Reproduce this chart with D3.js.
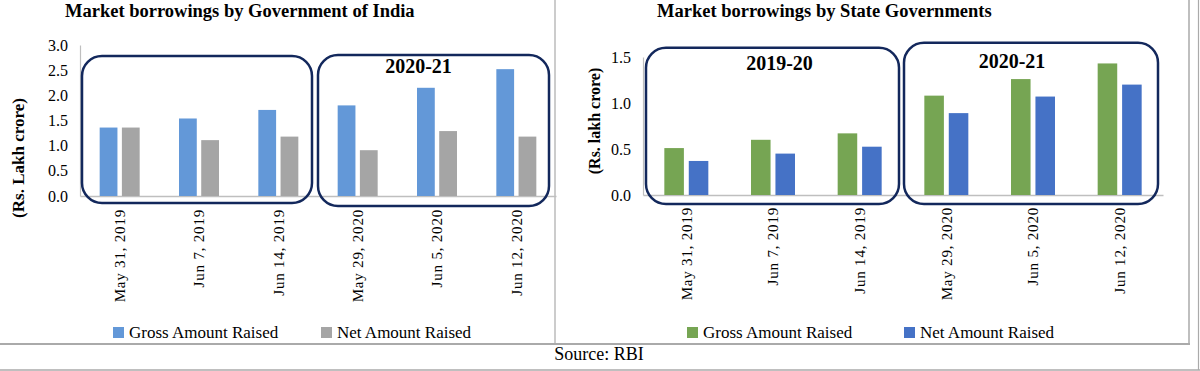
<!DOCTYPE html>
<html lang="en">

<head>
    <meta charset="UTF-8">
    <title>Market borrowings</title>
    <style>
        body {
            margin: 0;
            background: #fff;
        }

        svg {
            display: block;
            font-family: "Liberation Serif", "Times New Roman", serif;
        }

        .axis path,
        .axis line {
            stroke: #bfbfbf;
        }

        .axis .tick line {
            display: none;
        }

        .axis text {
            font-family: "Liberation Serif", "Times New Roman", serif;
            fill: #000;
        }

        .y.axis text {
            font-size: 16px;
        }

        .x.axis text {
            font-size: 15px;
            letter-spacing: 0.8px;
        }
    </style>
</head>

<body>
    <svg width="1200" height="371"></svg>

    <script src="https://d3js.org/d3.v7.min.js"></script>
    <script>
        // data (Rs. lakh crore)
        const dates = ["May 31, 2019", "Jun 7, 2019", "Jun 14, 2019", "May 29, 2020", "Jun 5, 2020", "Jun 12, 2020"];
        const seriesNames = ["Gross Amount Raised", "Net Amount Raised"];

        const goiGross = [1.36, 1.54, 1.71, 1.80, 2.15, 2.52];
        const goiNet = [1.36, 1.11, 1.18, 0.91, 1.29, 1.18];
        const goiTicks = [0, 0.5, 1.0, 1.5, 2.0, 2.5, 3.0];

        const stateGross = [0.51, 0.60, 0.67, 1.08, 1.26, 1.43];
        const stateNet = [0.37, 0.45, 0.525, 0.89, 1.07, 1.20];
        const stateTicks = [0, 0.5, 1.0, 1.5];

        const svg = d3.select("svg");

        // frame lines around the two panels
        const frame = svg.append("g").attr("stroke", "#aaa").attr("fill", "none");
        frame.append("line").attr("x1", 0).attr("x2", 1190).attr("y1", 344).attr("y2", 344).attr("stroke-width", 2);
        frame.append("line").attr("x1", 0).attr("x2", 1200).attr("y1", 370).attr("y2", 370).attr("stroke-width", 1.5);
        frame.append("line").attr("x1", 555).attr("x2", 555).attr("y1", 0).attr("y2", 344).attr("stroke-width", 1.2);
        frame.append("line").attr("x1", 1189).attr("x2", 1189).attr("y1", 0).attr("y2", 344).attr("stroke-width", 1.5);
        frame.append("line").attr("x1", 1198.5).attr("x2", 1198.5).attr("y1", 0).attr("y2", 370).attr("stroke-width", 1.2);

        svg.append("text")
            .attr("x", 599).attr("y", 360)
            .attr("text-anchor", "middle")
            .style("font-size", "18px")
            .text("Source: RBI");

        function drawPanel(p) {
            const g = svg.append("g");

            const x = d3.scaleBand().domain(dates).range(p.xRange);
            const y = d3.scaleLinear().domain(p.yDomain).range(p.yRange);
            const x1 = d3.scaleBand().domain([0, 1]).range([0, p.groupWidth]).paddingInner(0.2);

            // title
            g.append("text")
                .attr("x", p.titleX).attr("y", 17)
                .style("font-size", "18.5px").style("font-weight", "bold")
                .text(p.title);

            // y axis title
            g.append("text")
                .attr("transform", `translate(${p.yTitleX},${p.yTitleY}) rotate(-90)`)
                .attr("text-anchor", "middle")
                .style("font-size", p.yTitleSize).style("font-weight", "bold")
                .text(p.yTitle);

            // y axis
            const yAxis = d3.axisLeft(y).tickValues(p.ticks).tickFormat(d3.format(".1f")).tickSize(0).tickPadding(12);
            g.append("g").attr("class", "y axis")
                .attr("transform", `translate(${p.xRange[0]},0)`)
                .call(yAxis)
                .call(s => s.select(".domain").attr("stroke-width", 1.2));

            // x axis
            const xAxis = d3.axisBottom(x).tickSize(0).tickPadding(0);
            const xg = g.append("g").attr("class", "x axis")
                .attr("transform", `translate(0,${p.yRange[0]})`)
                .call(xAxis);
            xg.select(".domain").attr("stroke", "#d9d9d9").attr("stroke-width", 1.5);
            xg.selectAll(".tick text")
                .attr("transform", "rotate(-90)")
                .attr("text-anchor", "end")
                .attr("x", -p.labelGap)
                .attr("y", 0)
                .attr("dy", "0.35em");

            // bars
            const rows = dates.map((d, i) => ({ date: d, values: [p.series[0][i], p.series[1][i]] }));
            const groups = g.selectAll("g.bar-group").data(rows).enter().append("g")
                .attr("class", "bar-group")
                .attr("transform", d => `translate(${x(d.date) + x.bandwidth() / 2 - p.groupWidth / 2},0)`);
            groups.selectAll("rect").data(d => d.values).enter().append("rect")
                .attr("x", (d, i) => x1(i))
                .attr("width", x1.bandwidth())
                .attr("y", d => y(d))
                .attr("height", d => y(0) - y(d))
                .attr("fill", (d, i) => p.colors[i]);

            // rounded boxes around the two years
            p.boxes.forEach(b => {
                const x0 = x(dates[b.from]) + b.padL;
                const xEnd = x(dates[b.to]) + x.bandwidth() - b.padR;
                g.append("rect")
                    .attr("x", x0).attr("y", y(b.top))
                    .attr("width", xEnd - x0)
                    .attr("height", y(0) + b.below - y(b.top))
                    .attr("rx", 20).attr("ry", 20)
                    .attr("fill", "none")
                    .attr("stroke", "#13285c")
                    .attr("stroke-width", 2.5);
                if (b.label) {
                    g.append("text")
                        .attr("x", (x0 + xEnd) / 2 + b.labelDx)
                        .attr("y", y(b.top) + b.labelDy)
                        .attr("text-anchor", "middle")
                        .style("font-size", "20px").style("font-weight", "bold")
                        .text(b.label);
                }
            });

            // legend
            const lg = g.selectAll("g.legend").data(seriesNames).enter().append("g")
                .attr("class", "legend")
                .attr("transform", (d, i) => `translate(${p.legendX[i]},327)`);
            lg.append("rect").attr("width", 11).attr("height", 11).attr("fill", (d, i) => p.colors[i]);
            lg.append("text").attr("x", 16).attr("y", 10.5)
                .style("font-size", "17px")
                .text(d => d);
        }

        drawPanel({
            title: "Market borrowings by Government of India",
            titleX: 65,
            yTitle: "(Rs. Lakh crore)",
            yTitleX: 24, yTitleY: 158, yTitleSize: "17px",
            xRange: [80, 556],
            yDomain: [0, 3], yRange: [196, 45],
            ticks: goiTicks,
            series: [goiGross, goiNet],
            colors: ["#6398d8", "#a5a5a5"],
            groupWidth: 40,
            labelGap: 13,
            boxes: [
                { from: 0, to: 2, padL: 2, padR: 6, top: 2.78, below: 7, label: null },
                { from: 3, to: 5, padL: 0, padR: 7, top: 2.8, below: 10, label: "2020-21", labelDx: -15, labelDy: 18 }
            ],
            legendX: [113, 321]
        });

        drawPanel({
            title: "Market borrowings by State Governments",
            titleX: 657,
            yTitle: "(Rs. lakh crore)",
            yTitleX: 600, yTitleY: 121, yTitleSize: "16px",
            xRange: [643, 1163],
            yDomain: [0, 1.5], yRange: [195, 57],
            ticks: stateTicks,
            series: [stateGross, stateNet],
            colors: ["#76a553", "#4572c6"],
            groupWidth: 44,
            labelGap: 12,
            boxes: [
                { from: 0, to: 2, padL: 3, padR: 4, top: 1.6, below: 9, label: "2019-20", labelDx: 7, labelDy: 22 },
                { from: 3, to: 5, padL: 1, padR: 5, top: 1.655, below: 9, label: "2020-21", labelDx: -19, labelDy: 25 }
            ],
            legendX: [687, 904]
        });
    </script>

</body>

</html>
